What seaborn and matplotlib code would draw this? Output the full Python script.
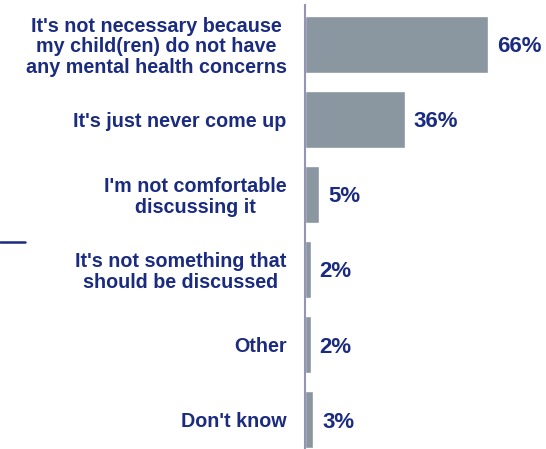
import matplotlib
matplotlib.use("Agg")
import matplotlib.pyplot as plt
from matplotlib.lines import Line2D
import seaborn as sns
import pandas as pd

categories = [
    "It's not necessary because\nmy child(ren) do not have\nany mental health concerns",
    "It's just never come up",
    "I'm not comfortable\ndiscussing it",
    "It's not something that\nshould be discussed",
    "Other",
    "Don't know",
]
values = [66, 36, 5, 2, 2, 3]

df = pd.DataFrame({"reason": categories, "pct": values})

sns.set_style("white")
plt.rcParams["font.family"] = ["Liberation Sans", "DejaVu Sans"]

navy = "#1b2c80"
bar_color = "#8a96a0"

fig = plt.figure(figsize=(5.46, 4.49), dpi=100)
ax = fig.add_axes([305 / 546, 0.0, 1 - 305 / 546, 1 - 5 / 449])

sns.barplot(data=df, y="reason", x="pct", orient="h", color=bar_color,
            width=0.76, saturation=1, ax=ax)

ax.set_xlim(0, 87)
ax.set_ylim(5.39, -0.52)
for s in ["top", "right", "bottom"]:
    ax.spines[s].set_visible(False)
ax.spines["left"].set_color("#9494b4")
ax.spines["left"].set_linewidth(1.5)
ax.set_xticks([])
ax.set_xlabel("")
ax.set_ylabel("")
ax.tick_params(axis="y", length=0, pad=13.2)
for lab in ax.get_yticklabels():
    lab.set_fontweight("bold")
    lab.set_fontsize(14.2)
    lab.set_color(navy)
    lab.set_horizontalalignment("right")
    lab.set_multialignment("center")
    lab.set_linespacing(1.1)

for i, v in enumerate(values):
    ax.annotate(f"{v}%", xy=(v, i), xytext=(6.5, -1.8), textcoords="offset points",
                va="center", ha="left", fontsize=16, fontweight="bold",
                color=navy)

fig.add_artist(Line2D([0, 25 / 546], [1 - 242 / 449, 1 - 242 / 449],
                      color=navy, linewidth=1.8, transform=fig.transFigure))

fig.savefig("out.png", dpi=100)
